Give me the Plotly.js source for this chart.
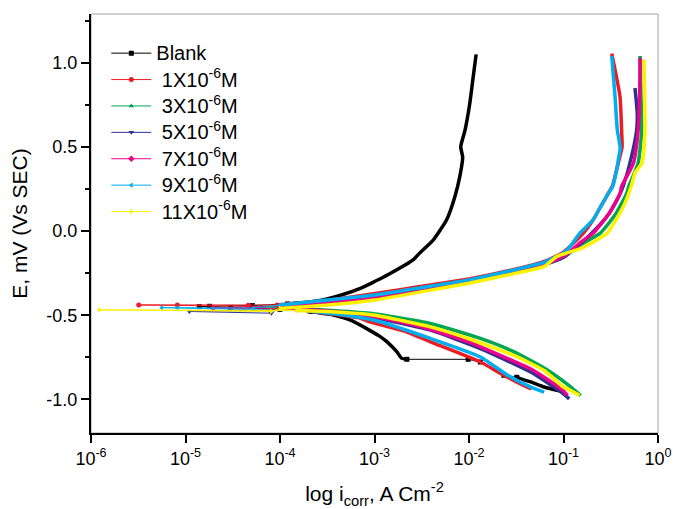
<!DOCTYPE html>
<html>
<head>
<meta charset="utf-8">
<script src="https://cdn.plot.ly/plotly-3.0.1.min.js"></script>
<style>html,body{margin:0;padding:0;background:#fff;}#chart{width:673px;height:509px;}</style>
</head>
<body>
<div id="chart"></div>
<script>
// Series names (legend)
var seriesNames = ["Blank", "\u00a01X10<sup>-6</sup>M", "\u00a03X10<sup>-6</sup>M", "\u00a05X10<sup>-6</sup>M",
                   "\u00a07X10<sup>-6</sup>M", "\u00a09X10<sup>-6</sup>M", "\u00a011X10<sup>-6</sup>M"];
var seriesColors = ["#000000", "#ed1c24", "#00a651", "#2e3192", "#ec008c", "#00aeef", "#fff200"];
var seriesSymbols = ["square", "circle", "triangle-up", "triangle-down", "diamond", "triangle-left", "triangle-right"];

// Tick labels
var xTickVals = [1e-6, 1e-5, 1e-4, 1e-3, 1e-2, 1e-1, 1];
var xTickText = ["10<sup>-6</sup>", "10<sup>-5</sup>", "10<sup>-4</sup>", "10<sup>-3</sup>", "10<sup>-2</sup>", "10<sup>-1</sup>", "10<sup>0</sup>"];
var yTickVals = [-1.0, -0.5, 0.0, 0.5, 1.0];
var yTickText = ["-1.0", "-0.5", "0.0", "0.5", "1.0"];

// Blank : dense (thick) branches, current density (A cm-2) and potential (V)
var blankX = [0.100, 0.061, 0.044, 0.032, null,
  0.0022, 0.00193, 0.00172, 0.00135, 0.00115, 0.00089, 0.00055, 0.00036, 0.00021, null,
  0.00012, 0.00019, 0.000285, 0.00043, 0.00073, 0.0010, 0.0014, 0.0026, 0.0030, 0.0042, 0.0058, 0.0071, 0.0080, 0.00857, 0.00817, 0.00908, 0.0102, 0.0111, 0.0119];
var blankY = [-0.955, -0.925, -0.895, -0.869, null,
  -0.762, -0.755, -0.717, -0.657, -0.627, -0.590, -0.528, -0.498, -0.478, null,
  -0.433, -0.423, -0.409, -0.383, -0.337, -0.300, -0.258, -0.168, -0.131, -0.052, 0.067, 0.206, 0.325, 0.440, 0.500, 0.600, 0.760, 0.920, 1.050];
// Blank : sparse points (thin line)
var blankThinX = [0.032, 0.0234, 0.0132, 0.0098, 0.0022, null, 0.00021, 0.00010, 0.000030, 0.000014, 0.000018, 0.000051, 0.00012];
var blankThinY = [-0.869, -0.857, -0.778, -0.762, -0.762, null, -0.478, -0.465, -0.455, -0.449, -0.447, -0.443, -0.433];

// 1X10-6 M
var c1X = [0.046, 0.0413, 0.0234, 0.0132, 0.0039, 0.0022, 0.00089, 0.00071, 0.00032, 0.00020, null,
  0.000093, 0.00025, 0.00055, 0.00135, 0.0030, 0.010, 0.0316, 0.063, 0.100, 0.158, 0.206, 0.250, 0.295, 0.330, 0.363, 0.398, 0.417, 0.412, 0.396, 0.324];
var c1Y = [-0.937, -0.927, -0.857, -0.778, -0.658, -0.600, -0.539, -0.518, -0.490, -0.475, null,
  -0.439, -0.419, -0.393, -0.360, -0.330, -0.285, -0.225, -0.180, -0.125, -0.020, 0.067, 0.150, 0.220, 0.270, 0.360, 0.450, 0.500, 0.600, 0.800, 1.055];
var c1ThinX = [0.00020, 0.000046, 0.0000032, 0.0000082, 0.000046, 0.000093];
var c1ThinY = [-0.475, -0.447, -0.439, -0.439, -0.441, -0.439];

// 3X10-6 M
var c3X = [0.152, 0.120, 0.068, 0.030, 0.0132, 0.0039, 0.00089, 0.00032, 0.00015, null,
  0.00010, 0.00032, 0.0010, 0.0032, 0.010, 0.0316, 0.063, 0.100, 0.158, 0.245, 0.355, 0.468, 0.490, 0.617, 0.672, 0.660, 0.646];
var c3Y = [-0.977, -0.927, -0.827, -0.718, -0.638, -0.549, -0.489, -0.470, -0.462, null,
  -0.445, -0.420, -0.390, -0.345, -0.297, -0.235, -0.197, -0.155, -0.075, -0.012, 0.100, 0.226, 0.265, 0.405, 0.600, 0.800, 1.040];
var c3ThinX = [0.00015, 0.000059, 0.00010];
var c3ThinY = [-0.462, -0.449, -0.445];

// 5X10-6 M
var c5X = [0.115, 0.100, 0.045, 0.0132, 0.0039, 0.0010, 0.00032, 0.00015, null,
  0.00010, 0.00032, 0.0010, 0.0032, 0.010, 0.0316, 0.063, 0.100, 0.158, 0.200, 0.300, 0.380, 0.427, 0.525, 0.594, 0.603, 0.571];
var c5Y = [-0.997, -0.967, -0.838, -0.698, -0.589, -0.515, -0.480, -0.468, null,
  -0.450, -0.425, -0.395, -0.350, -0.300, -0.238, -0.200, -0.155, -0.065, -0.012, 0.100, 0.200, 0.265, 0.444, 0.600, 0.700, 0.850];
var c5ThinX = [0.00015, 0.000011, 0.000081, 0.00010];
var c5ThinY = [-0.468, -0.478, -0.488, -0.450];

// 7X10-6 M
var c7X = [0.110, 0.100, 0.063, 0.0447, 0.0316, 0.010, 0.0032, 0.0010, 0.00032, 0.00015, null,
  0.00010, 0.00032, 0.0010, 0.0032, 0.010, 0.0316, 0.063, 0.100, 0.158, 0.206, 0.300, 0.398, 0.412, 0.550, 0.617, 0.640, 0.646];
var c7Y = [-0.977, -0.950, -0.870, -0.818, -0.780, -0.660, -0.570, -0.510, -0.475, -0.465, null,
  -0.445, -0.420, -0.390, -0.345, -0.298, -0.235, -0.195, -0.150, -0.060, -0.012, 0.100, 0.226, 0.265, 0.405, 0.600, 0.800, 1.030];
var c7ThinX = [0.00015, 0.0000196, 0.00010];
var c7ThinY = [-0.465, -0.458, -0.445];

// 9X10-6 M
var c9X = [0.0624, 0.045, 0.0257, 0.0132, 0.0039, 0.0010, 0.00050, 0.00020, null,
  0.00010, 0.00032, 0.0010, 0.0032, 0.010, 0.0316, 0.063, 0.100, 0.117, 0.149, 0.206, 0.250, 0.295, 0.331, 0.366, 0.380, 0.398, 0.371, 0.351, 0.324];
var c9Y = [-0.957, -0.927, -0.857, -0.748, -0.638, -0.530, -0.500, -0.475, null,
  -0.440, -0.410, -0.380, -0.335, -0.290, -0.228, -0.185, -0.130, -0.092, -0.012, 0.067, 0.150, 0.220, 0.265, 0.365, 0.424, 0.494, 0.600, 0.800, 1.040];
var c9ThinX = [0.00020, 0.0000056, 0.0000082, 0.000052, 0.00010];
var c9ThinY = [-0.475, -0.455, -0.455, -0.458, -0.440];

// 11X10-6 M
var c11X = [0.148, 0.126, 0.100, 0.063, 0.045, 0.0316, 0.010, 0.0039, 0.0010, 0.00032, 0.00015, null,
  0.00010, 0.00032, 0.0010, 0.0032, 0.010, 0.0316, 0.063, 0.085, 0.158, 0.290, 0.430, 0.520, 0.570, 0.676, 0.728, 0.710];
var c11Y = [-0.977, -0.955, -0.927, -0.830, -0.787, -0.745, -0.640, -0.569, -0.500, -0.478, -0.472, null,
  -0.460, -0.440, -0.410, -0.360, -0.310, -0.250, -0.210, -0.151, -0.100, -0.012, 0.146, 0.265, 0.345, 0.405, 0.600, 1.020];
var c11ThinX = [0.00015, 0.00000122, 0.000081, 0.00010];
var c11ThinY = [-0.472, -0.468, -0.478, -0.460];

var thickX = [blankX, c1X, c3X, c5X, c7X, c9X, c11X];
var thickY = [blankY, c1Y, c3Y, c5Y, c7Y, c9Y, c11Y];
var thinX = [blankThinX, c1ThinX, c3ThinX, c5ThinX, c7ThinX, c9ThinX, c11ThinX];
var thinY = [blankThinY, c1ThinY, c3ThinY, c5ThinY, c7ThinY, c9ThinY, c11ThinY];

var FONT = "Liberation Sans, Arial, Helvetica, sans-serif";
var traces = [];
for (var i = 0; i < seriesNames.length; i++) {
  traces.push({
    type: "scatter", mode: "lines", x: thickX[i], y: thickY[i],
    name: seriesNames[i], legendgroup: "g" + i, showlegend: false,
    line: {color: seriesColors[i], width: 3.5, shape: "spline", smoothing: 0.5},
    connectgaps: false, hoverinfo: "skip"
  });
  traces.push({
    type: "scatter", mode: "lines+markers", x: thinX[i], y: thinY[i],
    name: '<span style="font-size:20px">' + seriesNames[i] + '</span>',
    legendgroup: "g" + i, showlegend: true,
    line: {color: seriesColors[i], width: 1},
    marker: {color: seriesColors[i], symbol: seriesSymbols[i], size: 5},
    connectgaps: false, hoverinfo: "skip"
  });
}

var layout = {
  width: 673, height: 509,
  margin: {l: 91, r: 15, t: 14, b: 76, pad: 0},
  paper_bgcolor: "#ffffff", plot_bgcolor: "#ffffff",
  font: {family: FONT, color: "#000000", size: 18},
  showlegend: true,
  legend: {x: 0.027, y: 0.95, xanchor: "left", yanchor: "top", bgcolor: "rgba(0,0,0,0)",
           font: {family: FONT, size: 18, color: "#000"}, traceorder: "grouped", tracegroupgap: 0, itemwidth: 40},
  xaxis: {
    type: "log", range: [-6, 0], tickmode: "array", tickvals: xTickVals, ticktext: xTickText,
    ticks: "outside", ticklen: 8, tickwidth: 2, tickcolor: "#000",
    showline: true, linecolor: "#000", linewidth: 2, showgrid: false, zeroline: false,
    tickfont: {family: FONT, size: 18, color: "#000"},
    title: {text: "log i<sub>corr</sub>, A Cm<sup>-2</sup>", font: {family: FONT, size: 21, color: "#000"}, standoff: 19}
  },
  yaxis: {
    range: [-1.2, 1.29], tickmode: "array", tickvals: yTickVals, ticktext: yTickText,
    ticks: "outside", ticklen: 8, tickwidth: 2, tickcolor: "#000",
    minor: {ticks: "outside", ticklen: 4, tickwidth: 2, tickcolor: "#000", dtick: 0.25, tick0: 0, showgrid: false},
    showline: true, linecolor: "#000", linewidth: 2, showgrid: false, zeroline: false,
    tickfont: {family: FONT, size: 18, color: "#000"},
    title: {text: "E, mV (Vs SEC)", font: {family: FONT, size: 21, color: "#000"}, standoff: 13}
  },
  shapes: [{type: "rect", xref: "paper", yref: "paper", x0: 0, y0: 0, x1: 1, y1: 1,
            line: {color: "#a0a0a0", width: 1}, layer: "below"}]
};

Plotly.newPlot("chart", traces, layout, {staticPlot: true, displayModeBar: false});
</script>
</body>
</html>
